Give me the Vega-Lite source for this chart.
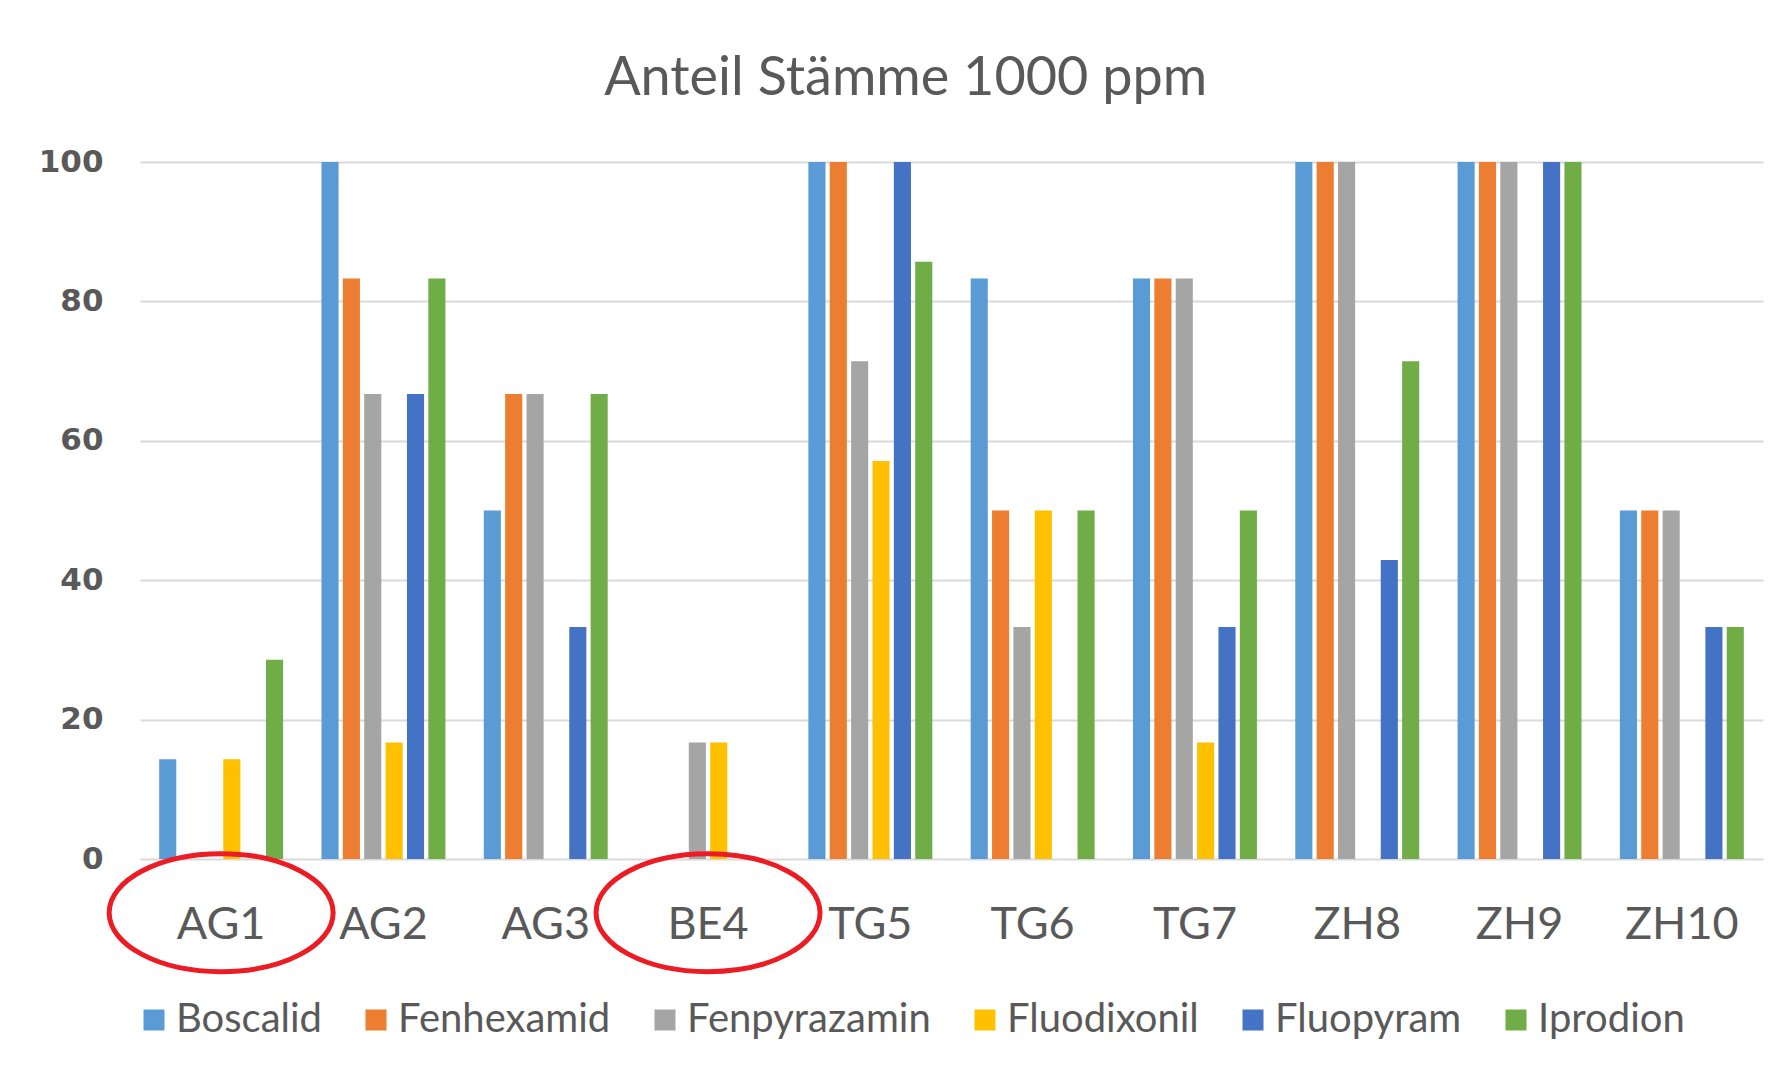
{
  "$schema": "https://vega.github.io/schema/vega-lite/v6.json",
  "width": 1623,
  "height": 697,
  "autosize": {"type": "none"},
  "padding": {"left": 140, "top": 162, "right": 26, "bottom": 219},
  "background": "white",
  "title": {"text": "Anteil Stämme 1000 ppm", "font": "Lato", "fontSize": 54, "fontWeight": "normal", "color": "#595959", "anchor": "middle", "frame": "bounds", "offset": 40, "dx": 5},
  "config": {"view": {"stroke": null}},
  "layer": [
    {
      "data": {"values": [
        {"Region": "AG1", "Fungizid": "Boscalid", "Anteil": 14.3},
        {"Region": "AG1", "Fungizid": "Fenhexamid", "Anteil": 0},
        {"Region": "AG1", "Fungizid": "Fenpyrazamin", "Anteil": 0},
        {"Region": "AG1", "Fungizid": "Fluodixonil", "Anteil": 14.3},
        {"Region": "AG1", "Fungizid": "Fluopyram", "Anteil": 0},
        {"Region": "AG1", "Fungizid": "Iprodion", "Anteil": 28.6},
        {"Region": "AG2", "Fungizid": "Boscalid", "Anteil": 100},
        {"Region": "AG2", "Fungizid": "Fenhexamid", "Anteil": 83.3},
        {"Region": "AG2", "Fungizid": "Fenpyrazamin", "Anteil": 66.7},
        {"Region": "AG2", "Fungizid": "Fluodixonil", "Anteil": 16.7},
        {"Region": "AG2", "Fungizid": "Fluopyram", "Anteil": 66.7},
        {"Region": "AG2", "Fungizid": "Iprodion", "Anteil": 83.3},
        {"Region": "AG3", "Fungizid": "Boscalid", "Anteil": 50},
        {"Region": "AG3", "Fungizid": "Fenhexamid", "Anteil": 66.7},
        {"Region": "AG3", "Fungizid": "Fenpyrazamin", "Anteil": 66.7},
        {"Region": "AG3", "Fungizid": "Fluodixonil", "Anteil": 0},
        {"Region": "AG3", "Fungizid": "Fluopyram", "Anteil": 33.3},
        {"Region": "AG3", "Fungizid": "Iprodion", "Anteil": 66.7},
        {"Region": "BE4", "Fungizid": "Boscalid", "Anteil": 0},
        {"Region": "BE4", "Fungizid": "Fenhexamid", "Anteil": 0},
        {"Region": "BE4", "Fungizid": "Fenpyrazamin", "Anteil": 16.7},
        {"Region": "BE4", "Fungizid": "Fluodixonil", "Anteil": 16.7},
        {"Region": "BE4", "Fungizid": "Fluopyram", "Anteil": 0},
        {"Region": "BE4", "Fungizid": "Iprodion", "Anteil": 0},
        {"Region": "TG5", "Fungizid": "Boscalid", "Anteil": 100},
        {"Region": "TG5", "Fungizid": "Fenhexamid", "Anteil": 100},
        {"Region": "TG5", "Fungizid": "Fenpyrazamin", "Anteil": 71.4},
        {"Region": "TG5", "Fungizid": "Fluodixonil", "Anteil": 57.1},
        {"Region": "TG5", "Fungizid": "Fluopyram", "Anteil": 100},
        {"Region": "TG5", "Fungizid": "Iprodion", "Anteil": 85.7},
        {"Region": "TG6", "Fungizid": "Boscalid", "Anteil": 83.3},
        {"Region": "TG6", "Fungizid": "Fenhexamid", "Anteil": 50},
        {"Region": "TG6", "Fungizid": "Fenpyrazamin", "Anteil": 33.3},
        {"Region": "TG6", "Fungizid": "Fluodixonil", "Anteil": 50},
        {"Region": "TG6", "Fungizid": "Fluopyram", "Anteil": 0},
        {"Region": "TG6", "Fungizid": "Iprodion", "Anteil": 50},
        {"Region": "TG7", "Fungizid": "Boscalid", "Anteil": 83.3},
        {"Region": "TG7", "Fungizid": "Fenhexamid", "Anteil": 83.3},
        {"Region": "TG7", "Fungizid": "Fenpyrazamin", "Anteil": 83.3},
        {"Region": "TG7", "Fungizid": "Fluodixonil", "Anteil": 16.7},
        {"Region": "TG7", "Fungizid": "Fluopyram", "Anteil": 33.3},
        {"Region": "TG7", "Fungizid": "Iprodion", "Anteil": 50},
        {"Region": "ZH8", "Fungizid": "Boscalid", "Anteil": 100},
        {"Region": "ZH8", "Fungizid": "Fenhexamid", "Anteil": 100},
        {"Region": "ZH8", "Fungizid": "Fenpyrazamin", "Anteil": 100},
        {"Region": "ZH8", "Fungizid": "Fluodixonil", "Anteil": 0},
        {"Region": "ZH8", "Fungizid": "Fluopyram", "Anteil": 42.9},
        {"Region": "ZH8", "Fungizid": "Iprodion", "Anteil": 71.4},
        {"Region": "ZH9", "Fungizid": "Boscalid", "Anteil": 100},
        {"Region": "ZH9", "Fungizid": "Fenhexamid", "Anteil": 100},
        {"Region": "ZH9", "Fungizid": "Fenpyrazamin", "Anteil": 100},
        {"Region": "ZH9", "Fungizid": "Fluodixonil", "Anteil": 0},
        {"Region": "ZH9", "Fungizid": "Fluopyram", "Anteil": 100},
        {"Region": "ZH9", "Fungizid": "Iprodion", "Anteil": 100},
        {"Region": "ZH10", "Fungizid": "Boscalid", "Anteil": 50},
        {"Region": "ZH10", "Fungizid": "Fenhexamid", "Anteil": 50},
        {"Region": "ZH10", "Fungizid": "Fenpyrazamin", "Anteil": 50},
        {"Region": "ZH10", "Fungizid": "Fluodixonil", "Anteil": 0},
        {"Region": "ZH10", "Fungizid": "Fluopyram", "Anteil": 33.3},
        {"Region": "ZH10", "Fungizid": "Iprodion", "Anteil": 33.3}
      ]},
      "mark": {"type": "bar"},
      "encoding": {
        "x": {
          "field": "Region", "type": "nominal",
          "sort": ["AG1", "AG2", "AG3", "BE4", "TG5", "TG6", "TG7", "ZH8", "ZH9", "ZH10"],
          "scale": {"paddingInner": 0.21, "paddingOuter": 0.105},
          "axis": {"title": null, "labelAngle": 0, "domain": false, "ticks": false, "grid": false, "labelFont": "Lato", "labelFontSize": 45, "labelColor": "#595959", "labelPadding": 43}
        },
        "xOffset": {
          "field": "Fungizid", "type": "nominal",
          "sort": ["Boscalid", "Fenhexamid", "Fenpyrazamin", "Fluodixonil", "Fluopyram", "Iprodion"],
          "scale": {"paddingInner": 0.2, "paddingOuter": 0.1}
        },
        "y": {
          "field": "Anteil", "type": "quantitative",
          "scale": {"domain": [0, 100]},
          "axis": {"title": null, "values": [0, 20, 40, 60, 80, 100], "grid": true, "gridColor": "#d9d9d9", "gridWidth": 2, "domain": false, "ticks": false, "labelFont": "DejaVu Sans", "labelFontWeight": "bold", "labelFontSize": 31, "labelColor": "#595959", "labelPadding": 37}
        },
        "color": {
          "field": "Fungizid", "type": "nominal",
          "scale": {
            "domain": ["Boscalid", "Fenhexamid", "Fenpyrazamin", "Fluodixonil", "Fluopyram", "Iprodion"],
            "range": ["#5B9BD5", "#ED7D31", "#A5A5A5", "#FFC000", "#4472C4", "#70AD47"]
          },
          "legend": {"title": null, "orient": "none", "legendX": -6, "legendY": 838, "direction": "horizontal", "padding": 0, "symbolType": "square", "symbolSize": 441, "symbolStrokeWidth": 0, "labelFont": "Lato", "labelFontSize": 40, "labelColor": "#595959", "columnPadding": 34, "labelOffset": 2, "labelLimit": 400}
        }
      }
    },
    {
      "data": {"values": [{"Region": "AG1"}, {"Region": "BE4"}]},
      "mark": {"type": "point", "shape": "M-1,0A1,0.527,0,1,0,1,0A1,0.527,0,1,0,-1,0Z", "size": 50176, "filled": false, "stroke": "#EC1C24", "strokeWidth": 5, "opacity": 1},
      "encoding": {
        "x": {"field": "Region", "type": "nominal", "sort": ["AG1", "AG2", "AG3", "BE4", "TG5", "TG6", "TG7", "ZH8", "ZH9", "ZH10"]},
        "y": {"datum": -7.7, "scale": {"domain": [0, 100]}}
      }
    }
  ]
}
